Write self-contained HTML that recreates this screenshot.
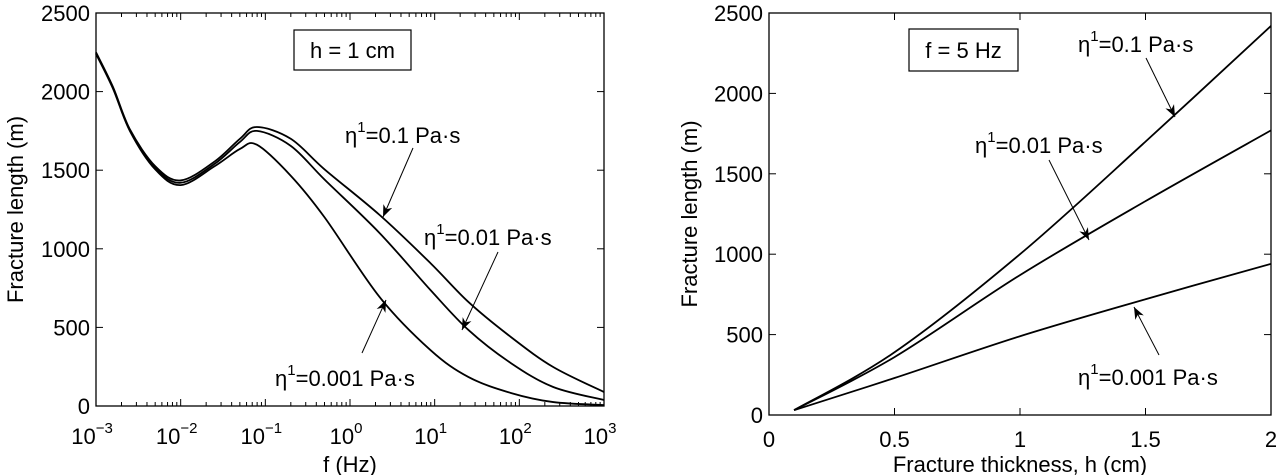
<!DOCTYPE html>
<html><head><meta charset="utf-8"><style>
html,body{margin:0;padding:0;background:#fff;}
svg{display:block;font-family:"Liberation Sans",Arial,sans-serif;}
</style></head><body>
<svg id="fig" width="1281" height="475" viewBox="0 0 1281 475" xmlns="http://www.w3.org/2000/svg">
<defs><marker id="ah" viewBox="0 0 10 10" refX="10" refY="5" markerWidth="12" markerHeight="12" markerUnits="userSpaceOnUse" orient="auto"><path d="M0,1 L10,5 L0,9 L3,5 Z" fill="#000"/></marker></defs>
<g id="left"></g>
<g id="right"></g>
</svg>
<script>
// Left chart data (log10 frequency vs fracture length)
const leftLogF = [-3,-2.8,-2.6,-2.3,-2,-1.6,-1.3,-1.1,-0.7,-0.3,0.35,0.95,1.4,1.9,2.4,3];
const leftEta01 = [2250,2030,1760,1525,1435,1555,1700,1775,1700,1505,1215,909,661,439,248,89];
const leftEta001 = [2245,2025,1755,1515,1420,1540,1680,1750,1655,1440,1100,738,483,273,121,38];
const leftEta0001 = [2240,2020,1750,1505,1405,1525,1635,1662,1465,1200,693,356,184,83,25,6];
const leftXTicks = [-3,-2,-1,0,1,2,3];
const leftYTicks = [0,500,1000,1500,2000,2500];
// Right chart data (thickness vs fracture length)
const rightH = [0.1,0.5,1,1.5,2];
const rightEta01 = [30,390,1000,1700,2420];
const rightEta001 = [30,360,870,1330,1770];
const rightEta0001 = [30,230,490,720,940];
const rightXTicks = [0,0.5,1,1.5,2];
const rightYTicks = [0,500,1000,1500,2000,2500];

const NS="http://www.w3.org/2000/svg";
function el(parent,tag,attrs,text){const e=document.createElementNS(NS,tag);for(const k in attrs)e.setAttribute(k,attrs[k]);if(text!==undefined)e.textContent=text;parent.appendChild(e);return e;}
function smooth(pts){let d="M"+pts[0][0]+","+pts[0][1];for(let i=0;i<pts.length-1;i++){const p0=pts[Math.max(0,i-1)],p1=pts[i],p2=pts[i+1],p3=pts[Math.min(pts.length-1,i+2)];const c1=[p1[0]+(p2[0]-p0[0])/6,p1[1]+(p2[1]-p0[1])/6],c2=[p2[0]-(p3[0]-p1[0])/6,p2[1]-(p3[1]-p1[1])/6];d+=" C"+c1[0]+","+c1[1]+" "+c2[0]+","+c2[1]+" "+p2[0]+","+p2[1];}return d;}

function axes(g,L,R,T,B,xs,ys,xt,yt,xlab,logx){
  const fr=el(g,'rect',{x:L,y:T,width:R-L,height:B-T,fill:'none',stroke:'#000','stroke-width':1.3});
  
  yt.forEach(v=>{const y=ys(v);
    el(g,'line',{x1:L,y1:y,x2:L+7,y2:y,stroke:'#000'});el(g,'line',{x1:R,y1:y,x2:R-7,y2:y,stroke:'#000'});
    const t=el(g,'text',{x:L-6,y:y+8,'text-anchor':'end','font-size':22},String(v));
    });
  xt.forEach(v=>{const x=xs(v);
    el(g,'line',{x1:x,y1:B,x2:x,y2:B-7,stroke:'#000'});el(g,'line',{x1:x,y1:T,x2:x,y2:T+7,stroke:'#000'});
    let t;
    if(logx){t=el(g,'text',{x:x-4,y:B+38,'text-anchor':'middle','font-size':22});
      el(t,'tspan',{},'10');el(t,'tspan',{dy:-11,'font-size':15},String(v).replace('-','\u2212'));}
    else t=el(g,'text',{x:x,y:B+32,'text-anchor':'middle','font-size':22},String(v));
    
    if(logx&&v<xt[xt.length-1]){for(let m=2;m<10;m++){const xm=xs(v+Math.log10(m));
      el(g,'line',{x1:xm,y1:B,x2:xm,y2:B-4,stroke:'#000'});el(g,'line',{x1:xm,y1:T,x2:xm,y2:T+4,stroke:'#000'});}}
  });
  const xl=el(g,'text',{x:(L+R)/2,y:472,'text-anchor':'middle','font-size':22},xlab);
  
}
function series(g,xs,ys,X,Y,name){const p=el(g,'path',{d:smooth(X.map((x,i)=>[xs(x),ys(Y[i])])),fill:'none',stroke:'#000','stroke-width':1.8});
  }
function label(g,x,y,val,name){const t=el(g,'text',{x:x,y:y,'font-size':22});
  el(t,'tspan',{},'\u03b7');el(t,'tspan',{dy:-11,'font-size':15},'1');el(t,'tspan',{dy:11},'='+val+' Pa\u00b7s');
  }
function arrow(g,x1,y1,x2,y2,name){const a=el(g,'line',{x1:x1,y1:y1,x2:x2,y2:y2,stroke:'#000','stroke-width':1,'marker-end':'url(#ah)'});
  }
function box(g,x,y,w,h,txt,name){const r=el(g,'rect',{x:x,y:y,width:w,height:h,fill:'#fff',stroke:'#000','stroke-width':1.2});
  
  el(g,'text',{x:x+w/2,y:y+h/2+8,'text-anchor':'middle','font-size':22},txt);}
function ylab(g,x,y){const t=el(g,'text',{x:x,y:y,'text-anchor':'middle','font-size':22,transform:'rotate(-90 '+x+' '+y+')'},'Fracture length (m)');
  }

// Left
(function(){const g=document.getElementById('left');const L=96,R=604,T=13,B=406;
  const xs=v=>L+(v+3)/6*(R-L), ys=v=>B-v/2500*(B-T);
  axes(g,L,R,T,B,xs,ys,leftXTicks,leftYTicks,'f (Hz)',true);
  ylab(g,23,(T+B)/2);
  series(g,xs,ys,leftLogF,leftEta01,'curve-eta-0.1');
  series(g,xs,ys,leftLogF,leftEta001,'curve-eta-0.01');
  series(g,xs,ys,leftLogF,leftEta0001,'curve-eta-0.001');
  box(g,294,30,117,40,'h = 1 cm','annotation-box');
  label(g,345,143,'0.1','label-eta-0.1');arrow(g,413,148,383,217,'arrow-eta-0.1');
  label(g,424,245,'0.01','label-eta-0.01');arrow(g,498,252,462,330,'arrow-eta-0.01');
  label(g,275,386,'0.001','label-eta-0.001');arrow(g,362,353,386,300,'arrow-eta-0.001');
})();
// Right
(function(){const g=document.getElementById('right');const L=769,R=1271,T=13,B=415;
  const xs=v=>L+v/2*(R-L), ys=v=>B-v/2500*(B-T);
  axes(g,L,R,T,B,xs,ys,rightXTicks,rightYTicks,'Fracture thickness, h (cm)',false);
  ylab(g,697,(T+B)/2);
  series(g,xs,ys,rightH,rightEta01,'curve-eta-0.1');
  series(g,xs,ys,rightH,rightEta001,'curve-eta-0.01');
  series(g,xs,ys,rightH,rightEta0001,'curve-eta-0.001');
  box(g,909,29,109,42,'f = 5 Hz','annotation-box');
  label(g,1078,52,'0.1','label-eta-0.1');arrow(g,1146,58,1175,117,'arrow-eta-0.1');
  label(g,975,153,'0.01','label-eta-0.01');arrow(g,1049,160,1089,240,'arrow-eta-0.01');
  label(g,1078,385,'0.001','label-eta-0.001');arrow(g,1159,355,1134,307,'arrow-eta-0.001');
})();
</script>
</body></html>
